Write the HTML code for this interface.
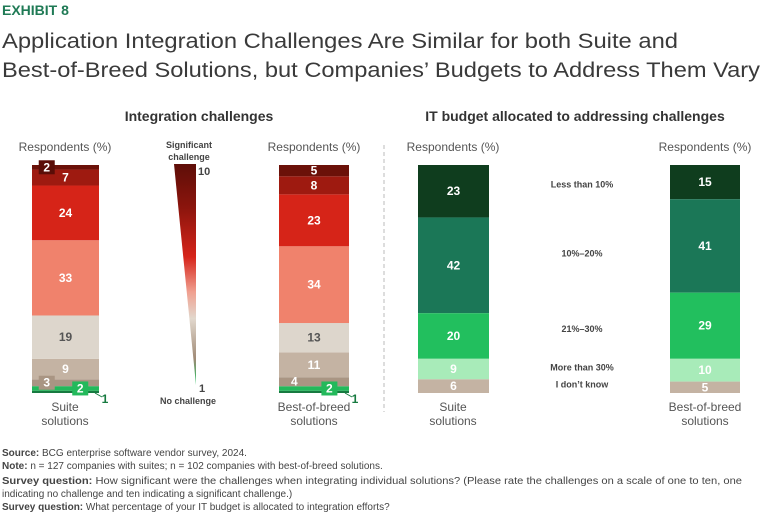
<!DOCTYPE html>
<html><head><meta charset="utf-8">
<style>
html,body{margin:0;padding:0;background:#fff;}
svg{display:block;font-family:"Liberation Sans",sans-serif;}
</style></head>
<body>
<svg id="chart" width="768" height="513" viewBox="0 0 768 513">
  <defs>
    <linearGradient id="wedgeGrad" x1="0" y1="0" x2="0" y2="1">
      <stop offset="0" stop-color="#5e0e08"/>
      <stop offset="0.2" stop-color="#8c150d"/>
      <stop offset="0.42" stop-color="#d6241a"/>
      <stop offset="0.58" stop-color="#f0a090"/>
      <stop offset="0.7" stop-color="#e2d8cd"/>
      <stop offset="0.88" stop-color="#a08a76"/>
      <stop offset="1" stop-color="#22bf5e"/>
    </linearGradient>
  </defs>
  <text x="2" y="15" font-size="14" font-weight="bold" fill="#1f7a55">EXHIBIT 8</text>
  <text x="2" y="48" font-size="21" fill="#3a3a3a" textLength="676" lengthAdjust="spacingAndGlyphs">Application Integration Challenges Are Similar for both Suite and</text>
  <text x="2" y="77" font-size="21" fill="#3a3a3a" textLength="758" lengthAdjust="spacingAndGlyphs">Best-of-Breed Solutions, but Companies’ Budgets to Address Them Vary</text>
  <text x="199" y="121" font-size="14" font-weight="bold" fill="#333" text-anchor="middle">Integration challenges</text>
  <text x="575" y="121" font-size="14" font-weight="bold" fill="#333" text-anchor="middle">IT budget allocated to addressing challenges</text>
  <line x1="384" y1="145" x2="384" y2="412" stroke="#bbb" stroke-dasharray="4,3"/>

  <polygon points="174,164 196,164 196,385" fill="url(#wedgeGrad)"/>
  <text x="189" y="148" font-size="9" font-weight="bold" fill="#444" text-anchor="middle">Significant</text>
  <text x="189" y="160" font-size="9" font-weight="bold" fill="#444" text-anchor="middle">challenge</text>
  <text x="198" y="175" font-size="11" font-weight="bold" fill="#444">10</text>
  <text x="199" y="392" font-size="11" font-weight="bold" fill="#444">1</text>
  <text x="188" y="404" font-size="9" font-weight="bold" fill="#444" text-anchor="middle">No challenge</text>

  <g id="bars"></g>

  <g font-size="10" fill="#444">
    <text x="2" y="456"><tspan font-weight="bold">Source:</tspan> BCG enterprise software vendor survey, 2024.</text>
    <text x="2" y="469"><tspan font-weight="bold">Note:</tspan> n = 127 companies with suites; n = 102 companies with best-of-breed solutions.</text>
    <text x="2" y="484" textLength="740" lengthAdjust="spacingAndGlyphs"><tspan font-weight="bold">Survey question:</tspan> How significant were the challenges when integrating individual solutions? (Please rate the challenges on a scale of one to ten, one</text>
    <text x="2" y="497">indicating no challenge and ten indicating a significant challenge.)</text>
    <text x="2" y="510"><tspan font-weight="bold">Survey question:</tspan> What percentage of your IT budget is allocated to integration efforts?</text>
  </g>
</svg>
<script>
// Challenge ratings, bottom (1) to top (10) groups as shown
const challengeSuite = [1, 2, 3, 9, 19, 33, 24, 7, 2];
const challengeBoB   = [1, 2, 4, 11, 13, 34, 23, 8, 5];
// Budget categories top to bottom
const budgetCategories = ["Less than 10%", "10%–20%", "21%–30%", "More than 30%", "I don’t know"];
const budgetSuite = [23, 42, 20, 9, 6];
const budgetBoB   = [15, 41, 29, 10, 5];

const chalColors = ["#177a40","#23b95b","#a99583","#c4b3a3","#ddd6cc","#f0826c","#d62418","#9e1a10","#6b1109"];
const chalText   = ["#177a40","#fff","#fff","#fff","#555","#fff","#fff","#fff","#fff"];
const budColors  = ["#0f3d1e","#1b7757","#22bf5e","#a8ebb9","#c4b3a3"];

const NS = "http://www.w3.org/2000/svg";
const g = document.getElementById("bars");
const TOP = 165, BOT = 393;
function yScale(cum, total){ return BOT - (cum/total)*(BOT-TOP); }
function mk(tag, attrs){ const e=document.createElementNS(NS,tag); for(const k in attrs) e.setAttribute(k,attrs[k]); g.appendChild(e); return e; }

function header(cx, label){
  const t = mk("text",{x:cx,y:151,"font-size":12,fill:"#555","text-anchor":"middle"});
  t.textContent = "Respondents (%)";
  
  
  label.forEach((l,i)=>{
    const tt = mk("text",{x:cx,y:411+i*14,"font-size":12,fill:"#555","text-anchor":"middle"});
    tt.textContent = l;
    
    
  });
}

function challengeBar(vals,x0,w,name){
  const total = vals.reduce((a,b)=>a+b,0);
  let cum=0;
  const cums = vals.map(v=>{const c=cum; cum+=v; return c;});
  vals.forEach((v,i)=>{
    const y1 = yScale(cums[i],total), y2 = yScale(cums[i]+v,total);
    const r = mk("rect",{x:x0,y:y2,width:w,height:y1-y2,fill:chalColors[i]});
    
    
  });
  vals.forEach((v,i)=>{
    const y1 = yScale(cums[i],total), y2 = yScale(cums[i]+v,total);
    const cy=(y1+y2)/2;
    let tx=x0+w/2, ty=cy+4, fill=chalText[i], badge=null;
    if(i===0){ tx=x0+w+6; ty=y1+10; }
    else if(i===1){ tx=x0+w*0.72; badge=chalColors[1]; }
    else if(v<5){ tx=x0+w*0.22; if(name==='suite-challenge') badge=(i===8?"#5a0d07":chalColors[i]); }
    if(badge){
      const b = mk("rect",{x:tx-8,y:ty-11,width:16,height:14,fill:badge});
      
      
    }
    if(i===0){
      const l = mk("line",{x1:x0+w-4,y1:y1,x2:tx-3,y2:ty-6,stroke:"#177a40","stroke-width":1});
      
      
    }
    const t = mk("text",{x:tx,y:ty,"font-size":12,"font-weight":"bold",fill:fill,"text-anchor":"middle"});
    t.textContent = v;
    
    
  });
}

function budgetBar(vals, x0, w, name){
  const total = vals.reduce((a,b)=>a+b,0);
  let cum = 0;
  vals.forEach((v,i)=>{
    const y1 = TOP + (cum/total)*(BOT-TOP), y2 = TOP + ((cum+v)/total)*(BOT-TOP);
    cum += v;
    const r = mk("rect",{x:x0,y:y1,width:w,height:y2-y1,fill:budColors[i]});
    
    
    const t = mk("text",{x:x0+w/2,y:(y1+y2)/2+4,"font-size":12,"font-weight":"bold",fill:"#fff","text-anchor":"middle"});
    t.textContent = v;
    
    
  });
}

challengeBar(challengeSuite, 32, 67, "suite-challenge");
challengeBar(challengeBoB, 279, 70, "bob-challenge");
budgetBar(budgetSuite, 418, 71, "suite-budget");
budgetBar(budgetBoB, 670, 70, "bob-budget");

header(65, ["Suite","solutions"]);
header(314, ["Best-of-breed","solutions"]);
header(453, ["Suite","solutions"]);
header(705, ["Best-of-breed","solutions"]);

const totS = budgetSuite.reduce((a,b)=>a+b,0), totB = budgetBoB.reduce((a,b)=>a+b,0);
let cS=0,cB=0;
budgetCategories.forEach((c,i)=>{
  const mS = TOP + ((cS+budgetSuite[i]/2)/totS)*(BOT-TOP);
  const mB = TOP + ((cB+budgetBoB[i]/2)/totB)*(BOT-TOP);
  cS+=budgetSuite[i]; cB+=budgetBoB[i];
  const t = mk("text",{x:582,y:(mS+mB)/2+1,"font-size":9,"font-weight":"bold",fill:"#444","text-anchor":"middle"});
  t.textContent = c;
  
  
});
</script>
</body></html>
